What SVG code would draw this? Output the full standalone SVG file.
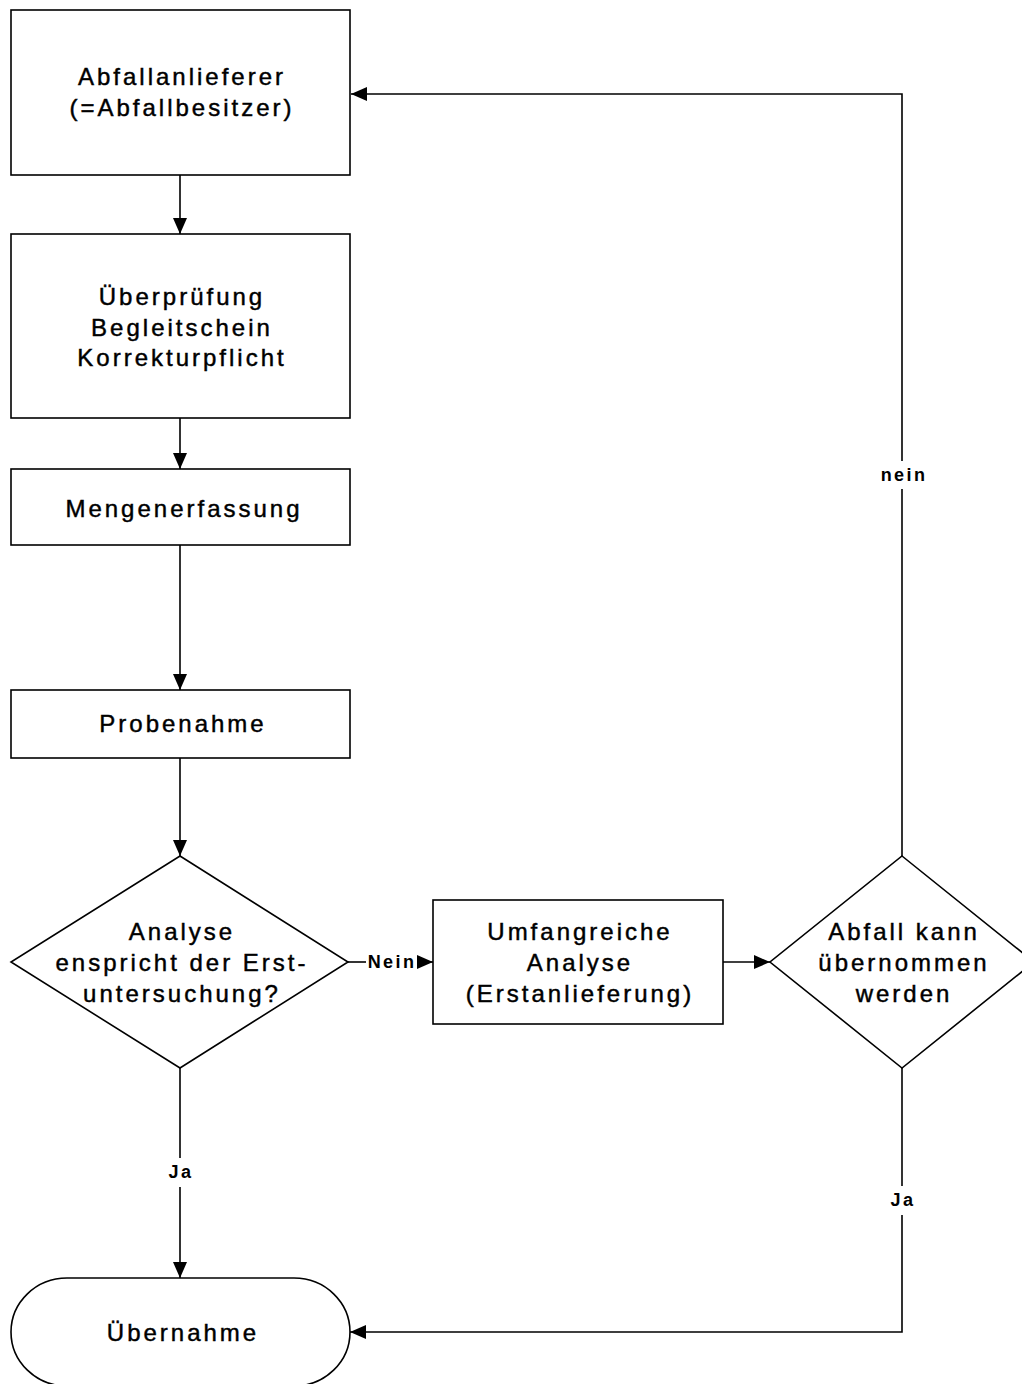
<svg xmlns="http://www.w3.org/2000/svg" width="1022" height="1384" viewBox="0 0 1022 1384">
  <style>
    .shape { fill: #ffffff; stroke: #000000; stroke-width: 1.6; }
    .wire { fill: none; stroke: #000000; stroke-width: 1.6; }
    .lbl { font-family: "Liberation Sans", Arial, sans-serif; font-size: 24px; letter-spacing: 3px; fill: #000000; stroke: #000000; stroke-width: 0.45; text-anchor: middle; dominant-baseline: central; }
    .tag { font-family: "Liberation Sans", Arial, sans-serif; font-size: 18px; font-weight: bold; letter-spacing: 2.4px; fill: #000000; text-anchor: middle; dominant-baseline: central; }
  </style>
  <defs>
    <marker id="arrow" viewBox="0 0 16 14" refX="16" refY="7" markerWidth="16" markerHeight="14" markerUnits="userSpaceOnUse" orient="auto">
      <path d="M0,0 L16,7 L0,14 Z" fill="#000000"/>
    </marker>
  </defs>
  <rect width="1022" height="1384" fill="#ffffff"/>

  <!-- connectors -->
  <g id="connectors">
    <path class="wire" d="M180,175 V234" marker-end="url(#arrow)"/>
    <path class="wire" d="M180,418 V469" marker-end="url(#arrow)"/>
    <path class="wire" d="M180,545 V690" marker-end="url(#arrow)"/>
    <path class="wire" d="M180,758 V856" marker-end="url(#arrow)"/>
    <!-- Nein branch to detailed analysis -->
    <path class="wire" d="M348,962 H366"/>
    <text class="tag" x="392" y="962">Nein</text>
    <path class="wire" d="M418,962 H433" marker-end="url(#arrow)"/>
    <path class="wire" d="M723,962 H770" marker-end="url(#arrow)"/>
    <!-- nein: back to the delivering party -->
    <path class="wire" d="M902,856 V489"/>
    <path class="wire" d="M902,461 V94 H351" marker-end="url(#arrow)"/>
    <text class="tag" x="904" y="475">nein</text>
    <!-- Ja from the second decision -->
    <path class="wire" d="M902,1068 V1186"/>
    <path class="wire" d="M902,1215 V1332 H350" marker-end="url(#arrow)"/>
    <text class="tag" x="903" y="1200">Ja</text>
    <!-- Ja from the first decision -->
    <path class="wire" d="M180,1068 V1158"/>
    <path class="wire" d="M180,1187 V1278" marker-end="url(#arrow)"/>
    <text class="tag" x="181" y="1172">Ja</text>
  </g>

  <g id="anlieferer">
    <rect class="shape" x="11" y="10" width="339" height="165"/>
    <text class="lbl" x="182" y="76">Abfallanlieferer</text>
    <text class="lbl" x="182" y="107">(=Abfallbesitzer)</text>
  </g>

  <g id="pruefung">
    <rect class="shape" x="11" y="234" width="339" height="184"/>
    <text class="lbl" x="182" y="296">Überprüfung</text>
    <text class="lbl" x="182" y="327">Begleitschein</text>
    <text class="lbl" x="182" y="357">Korrekturpflicht</text>
  </g>

  <g id="menge">
    <rect class="shape" x="11" y="469" width="339" height="76"/>
    <text class="lbl" x="184" y="508">Mengenerfassung</text>
  </g>

  <g id="probe">
    <rect class="shape" x="11" y="690" width="339" height="68"/>
    <text class="lbl" x="183" y="723">Probenahme</text>
  </g>

  <g id="entscheidung1">
    <polygon class="shape" points="180,856 348,962 180,1068 11,962"/>
    <text class="lbl" x="182" y="931">Analyse</text>
    <text class="lbl" x="182" y="962">enspricht der Erst-</text>
    <text class="lbl" x="182" y="993">untersuchung?</text>
  </g>

  <g id="umfang">
    <rect class="shape" x="433" y="900" width="290" height="124"/>
    <text class="lbl" x="580" y="931">Umfangreiche</text>
    <text class="lbl" x="580" y="962">Analyse</text>
    <text class="lbl" x="580" y="993">(Erstanlieferung)</text>
  </g>

  <g id="entscheidung2">
    <polygon class="shape" points="902,856 1034,962 902,1068 770,962"/>
    <text class="lbl" x="904" y="931">Abfall kann</text>
    <text class="lbl" x="904" y="962">übernommen</text>
    <text class="lbl" x="904" y="993">werden</text>
  </g>

  <g id="uebernahme">
    <rect class="shape" x="11" y="1278" width="339" height="108" rx="56" ry="54"/>
    <text class="lbl" x="183" y="1332">Übernahme</text>
  </g>
</svg>
